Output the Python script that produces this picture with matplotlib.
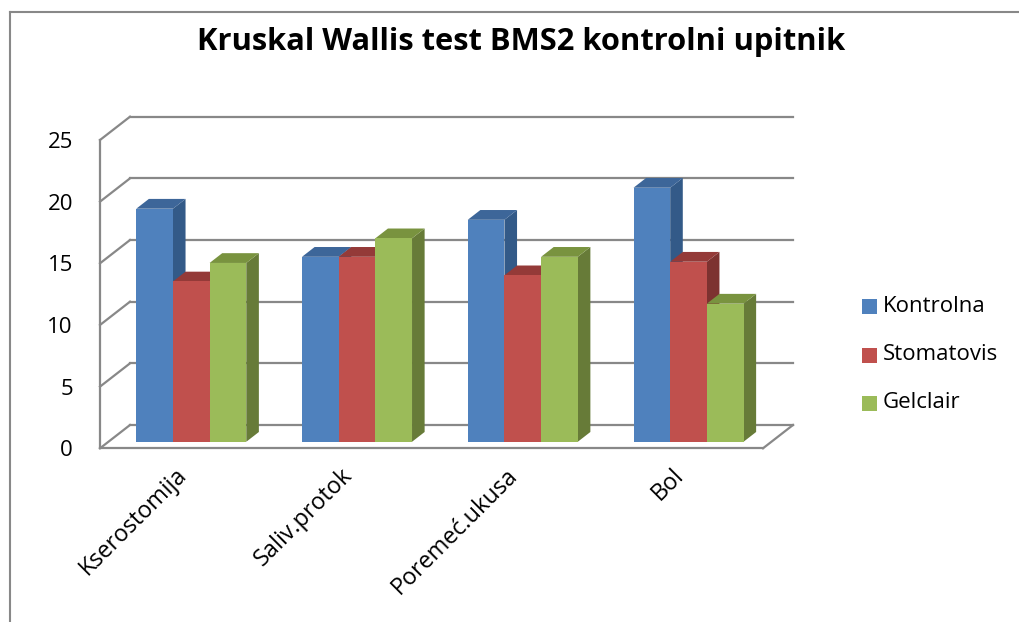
import matplotlib
matplotlib.use("Agg")
import matplotlib.pyplot as plt
from matplotlib.patches import Polygon, Rectangle
from matplotlib.lines import Line2D

categories = ["Kserostomija", "Saliv.protok", "Poremeć.ukusa", "Bol"]
series_names = ["Kontrolna", "Stomatovis", "Gelclair"]
kontrolna = [18.9, 15.0, 18.0, 20.6]
stomatovis = [13.0, 15.0, 13.5, 14.6]
gelclair = [14.5, 16.5, 15.0, 11.2]
yticks = [0, 5, 10, 15, 20, 25]

values = [kontrolna, stomatovis, gelclair]
front_cols = ["#4F81BD", "#C0504D", "#9BBB59"]
side_cols = ["#335A88", "#7D3230", "#677B38"]
top_cols = ["#3D6699", "#943A38", "#79933F"]
grid_col = "#888888"
FONT = "Open Sans"
FS = 16

W, H = 1020, 622
fig = plt.figure(figsize=(W / 100, H / 100), dpi=100)
fig.patch.set_facecolor("white")

# front plane of the 3D box in pixels
x0p, x1p = 100, 763
ybot, ytop = 448.3, 140
ax = fig.add_axes([x0p / W, (H - ybot) / H, (x1p - x0p) / W, (ybot - ytop) / H])
ax.set_xlim(0, len(categories))
ax.set_ylim(0, 25)
for s in ax.spines.values():
    s.set_visible(False)
ax.patch.set_visible(False)

pxx = (x1p - x0p) / len(categories)
pxy = (ybot - ytop) / 25
ddx = 30 / pxx      # full depth offset in data units
ddy = 23.3 / pxy

lw = 1.6
# back wall gridlines and left-wall diagonals
for v in yticks:
    ax.add_line(Line2D([ddx, len(categories) + ddx], [v + ddy, v + ddy], color=grid_col, lw=lw, clip_on=False, zorder=1))
    ax.add_line(Line2D([0, ddx], [v, v + ddy], color=grid_col, lw=lw, clip_on=False, zorder=1))
# front axis + floor
ax.add_line(Line2D([0, 0], [0, 25], color=grid_col, lw=lw, clip_on=False, zorder=1))
ax.add_line(Line2D([0, len(categories)], [0, 0], color=grid_col, lw=lw, clip_on=False, zorder=1))
ax.add_line(Line2D([len(categories), len(categories) + ddx], [0, ddy], color=grid_col, lw=lw, clip_on=False, zorder=1))

# bars
group_w = 110 / pxx
bw = group_w / 3
f0, df = 0.28, 0.42
ox, oy = f0 * ddx, f0 * ddy
bx, by = df * ddx, df * ddy
z = 2
for ci in range(len(categories)):
    for si in range(3):
        v = values[si][ci]
        left = ci + 0.5 - group_w / 2 + si * bw + ox
        ax.bar(left, v, width=bw, bottom=oy, align="edge", color=front_cols[si], zorder=z + 0.3, clip_on=False, linewidth=0)
        side = [(left + bw, oy), (left + bw + bx, oy + by), (left + bw + bx, oy + v + by), (left + bw, oy + v)]
        top = [(left, oy + v), (left + bx, oy + v + by), (left + bw + bx, oy + v + by), (left + bw, oy + v)]
        ax.add_patch(Polygon(side, closed=True, facecolor=side_cols[si], edgecolor="none", zorder=z + 0.1, clip_on=False))
        ax.add_patch(Polygon(top, closed=True, facecolor=top_cols[si], edgecolor="none", zorder=z + 0.2, clip_on=False))
        z += 1

# ticks
ax.set_yticks(yticks)
ax.set_yticklabels([str(t) for t in yticks], fontfamily=FONT, fontsize=FS)
ax.tick_params(axis="y", length=0, pad=19.5)
ax.set_xticks([i + 0.5 for i in range(len(categories))])
ax.set_xticklabels(categories, rotation=45, ha="right", va="center", rotation_mode="anchor",
                   fontfamily=FONT, fontsize=16.8)
ax.tick_params(axis="x", length=0, pad=17)

# title
fig.text(521 / W, (H - 50) / H, "Kruskal Wallis test BMS2 kontrolni upitnik", ha="center", va="baseline",
         fontfamily=FONT, fontweight="bold", fontsize=22.2)

# legend
leg_y = [306, 355, 403]
for name, col, yc in zip(series_names, front_cols, leg_y):
    fig.patches.append(Rectangle(((862) / W, (H - yc - 7.5) / H), 15 / W, 15 / H, transform=fig.transFigure,
                                 facecolor=col, edgecolor="none"))
    fig.text(883 / W, (H - yc) / H, name, ha="left", va="center", fontfamily=FONT, fontsize=FS)

# outer chart border (partly outside the image)
fig.add_artist(Line2D([10 / W, 1.0], [(H - 12) / H, (H - 12) / H], transform=fig.transFigure, color=grid_col, lw=1.5))
fig.add_artist(Line2D([10 / W, 10 / W], [0, (H - 12) / H], transform=fig.transFigure, color=grid_col, lw=1.5))

fig.savefig("out.png", dpi=100)
